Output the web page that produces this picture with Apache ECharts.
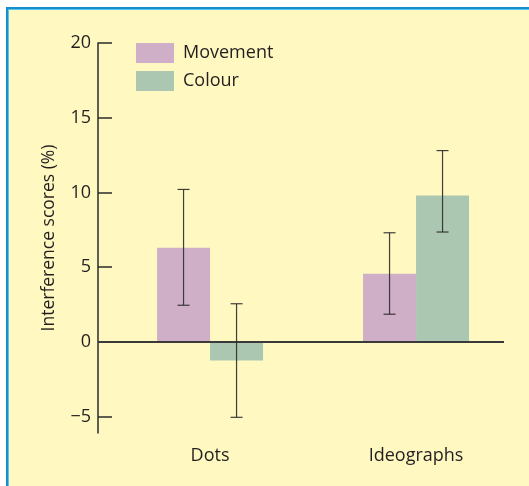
<!DOCTYPE html>
<html>
<head>
<meta charset="utf-8">
<script src="https://cdn.jsdelivr.net/npm/echarts@6/dist/echarts.min.js"></script>
<style>
  html, body { margin: 0; padding: 0; background: #ffffff; }
  #panel {
    position: absolute; left: 6px; top: 7px; width: 530px; height: 490px;
    background: #fff8c1;
    border-left: 2px solid #1590cc; border-top: 2px solid #1590cc;
    box-shadow: inset 1px 1px 0 #5cc3ea;
  }
  #chart { position: absolute; left: 0; top: 0; width: 529px; height: 486px; }
</style>
</head>
<body>
<div id="panel"></div>
<div id="chart"></div>
<script>
// Stimulus types along the x axis
const categories = ['Dots', 'Ideographs'];
// Mean interference scores (%) per condition
const movement = [6.3, 4.55];
const colour = [-1.25, 9.8];
// Error bar extents [low, high]
const movementErr = [[2.45, 10.2], [1.85, 7.3]];
const colourErr = [[-5.05, 2.55], [7.35, 12.8]];
// Y axis tick values
const yTicks = [-5, 0, 5, 10, 15, 20];

const FONT = '"Open Sans", sans-serif';
const TEXT = '#231f20';
const BAR_W = 53;

function errData(errs) {
  return errs.map((e, i) => [i + 1, e[0], e[1]]);
}

function errRenderer(shift) {
  return function (params, api) {
    const lo = api.coord([api.value(0), api.value(1)]);
    const hi = api.coord([api.value(0), api.value(2)]);
    const x = lo[0] + shift;
    const cap = 6;
    const style = { stroke: '#2b2b2b', lineWidth: 1.2, opacity: 0.9 };
    return {
      type: 'group',
      children: [
        { type: 'line', shape: { x1: x, y1: lo[1], x2: x, y2: hi[1] }, style },
        { type: 'line', shape: { x1: x - cap, y1: lo[1], x2: x + cap, y2: lo[1] }, style },
        { type: 'line', shape: { x1: x - cap, y1: hi[1], x2: x + cap, y2: hi[1] }, style }
      ]
    };
  };
}

const chart = echarts.init(document.getElementById('chart'), null, { renderer: 'canvas' });
chart.setOption({
  backgroundColor: 'transparent',
  animation: false,
  textStyle: { fontFamily: FONT },
  grid: { left: 98, right: 25, top: 43, bottom: 53 },
  legend: {
    orient: 'vertical',
    left: 136, top: 43, padding: 0,
    itemWidth: 38, itemHeight: 20, itemGap: 8,
    icon: 'rect',
    data: ['Movement', 'Colour'],
    textStyle: { fontFamily: FONT, fontSize: 18, color: TEXT, padding: [0, 0, 0, 4] }
  },
  xAxis: {
    type: 'value',
    min: 0.456, max: 2.427,
    axisLine: { show: false },
    axisTick: { show: false },
    splitLine: { show: false },
    axisLabel: {
      customValues: [1, 2],
      formatter: v => categories[Math.round(v) - 1] || '',
      fontFamily: FONT, fontSize: 18, color: TEXT, margin: 14
    }
  },
  yAxis: {
    type: 'value',
    min: -6.1, max: 20,
    name: 'Interference scores (%)',
    nameLocation: 'middle',
    nameGap: 40,
    nameTextStyle: { fontFamily: FONT, fontSize: 17.5, color: TEXT },
    axisLine: { show: true, lineStyle: { color: '#2b2b2b', width: 1.5 } },
    axisTick: { show: true, inside: true, length: 14, customValues: yTicks, lineStyle: { color: '#2b2b2b', width: 1.5 } },
    axisLabel: { customValues: yTicks, fontFamily: FONT, fontSize: 18, color: TEXT, margin: 7,
      formatter: v => (v < 0 ? '\u2212' + Math.abs(v) : String(v)) },
    splitLine: { show: false }
  },
  series: [
    {
      name: 'Movement', type: 'bar', barWidth: BAR_W, barGap: '0%',
      itemStyle: { color: '#cfaec8' },
      data: movement.map((v, i) => [i + 1, v]),
      markLine: {
        silent: true, symbol: 'none', label: { show: false },
        lineStyle: { color: '#3a3a3a', width: 2, type: 'solid' },
        data: [{ yAxis: 0 }]
      }
    },
    {
      name: 'Colour', type: 'bar', barWidth: BAR_W, barGap: '0%',
      itemStyle: { color: '#abc7b1' },
      data: colour.map((v, i) => [i + 1, v])
    },
    {
      type: 'custom', silent: true, z: 5,
      renderItem: errRenderer(-BAR_W / 2),
      data: errData(movementErr)
    },
    {
      type: 'custom', silent: true, z: 5,
      renderItem: errRenderer(BAR_W / 2),
      data: errData(colourErr)
    }
  ]
});
</script>
</body>
</html>
